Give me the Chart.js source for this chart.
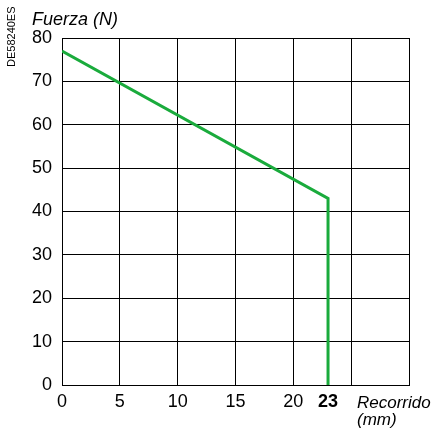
<!DOCTYPE html>
<html>
<head>
<meta charset="utf-8">
<script src="https://cdn.jsdelivr.net/npm/chart.js@4.4.0/dist/chart.umd.min.js"></script>
<style>
  html, body { margin: 0; padding: 0; background: #fff; }
  #wrap { width: 436px; height: 430px; }
</style>
</head>
<body>
<div id="wrap"><canvas id="forceChart" width="436" height="430"></canvas></div>
<script>
// travel (mm) and force (N)
const travel = [0, 23, 23];
const force = [77, 43, 0];
const xTicks = [0, 5, 10, 15, 20, 23, 25, 30];
const xLabels = ['0', '5', '10', '15', '20', '23', '', ''];
const yTicks = [0, 10, 20, 30, 40, 50, 60, 70, 80];

document.addEventListener("DOMContentLoaded", function() {
    const ctx = document.getElementById("forceChart").getContext("2d");

    const extraText = {
        id: 'extraText',
        afterDraw(chart) {
            const c = chart.ctx;
            c.save();
            c.fillStyle = '#000';
            c.textBaseline = 'alphabetic';
            c.font = 'italic 18px "Liberation Sans", Arial, sans-serif';
            c.textAlign = 'left';
            c.fillText('Fuerza (N)', 32, 25);
            c.font = 'italic 17px "Liberation Sans", Arial, sans-serif';
            c.fillText('Recorrido', 357, 408);
            c.fillText('(mm)', 357, 425);
            c.translate(15, 67);
            c.rotate(-Math.PI / 2);
            c.font = '11px "Liberation Sans", Arial, sans-serif';
            c.fillText('DE58240ES', 0, 0);
            c.restore();
        }
    };

    new Chart(ctx, {
        type: 'scatter',
        data: {
            datasets: [{
                data: travel.map((t, i) => ({ x: t, y: force[i] })),
                showLine: true,
                borderColor: '#1aab3c',
                borderWidth: 3,
                pointRadius: 0,
                fill: false,
                tension: 0
            }]
        },
        options: {
            responsive: false,
            animation: false,
            layout: { padding: { top: 38, right: 27, left: 0, bottom: 0 } },
            plugins: { legend: { display: false }, tooltip: { enabled: false } },
            scales: {
                x: {
                    type: 'linear',
                    min: 0,
                    max: 30,
                    afterBuildTicks: (s) => { s.ticks = xTicks.map(v => ({ value: v })); },
                    afterFit: (s) => { s.height = 45; s.paddingLeft = 0; s.paddingRight = 0; },
                    grid: {
                        color: (c) => (c.tick && c.tick.value === 23) ? 'rgba(0,0,0,0)' : '#000',
                        lineWidth: 1,
                        drawTicks: false
                    },
                    border: { display: true, color: '#000', width: 1 },
                    ticks: {
                        padding: 6,
                        autoSkip: false,
                        maxRotation: 0,
                        color: '#000',
                        font: (c) => ({
                            family: '"Liberation Sans", Arial, sans-serif',
                            size: 18,
                            weight: (c.tick && c.tick.value === 23) ? 'bold' : 'normal'
                        }),
                        callback: (v) => {
                            const i = xTicks.indexOf(v);
                            return i >= 0 ? xLabels[i] : '';
                        }
                    }
                },
                y: {
                    type: 'linear',
                    min: 0,
                    max: 80,
                    afterBuildTicks: (s) => { s.ticks = yTicks.map(v => ({ value: v })); },
                    afterFit: (s) => { s.width = 62; },
                    grid: { color: '#000', lineWidth: 1, drawTicks: false },
                    border: { display: true, color: '#000', width: 1 },
                    ticks: {
                        padding: 10,
                        color: '#000',
                        font: { family: '"Liberation Sans", Arial, sans-serif', size: 18 }
                    }
                }
            }
        },
        plugins: [extraText]
    });
});
</script>
</body>
</html>
